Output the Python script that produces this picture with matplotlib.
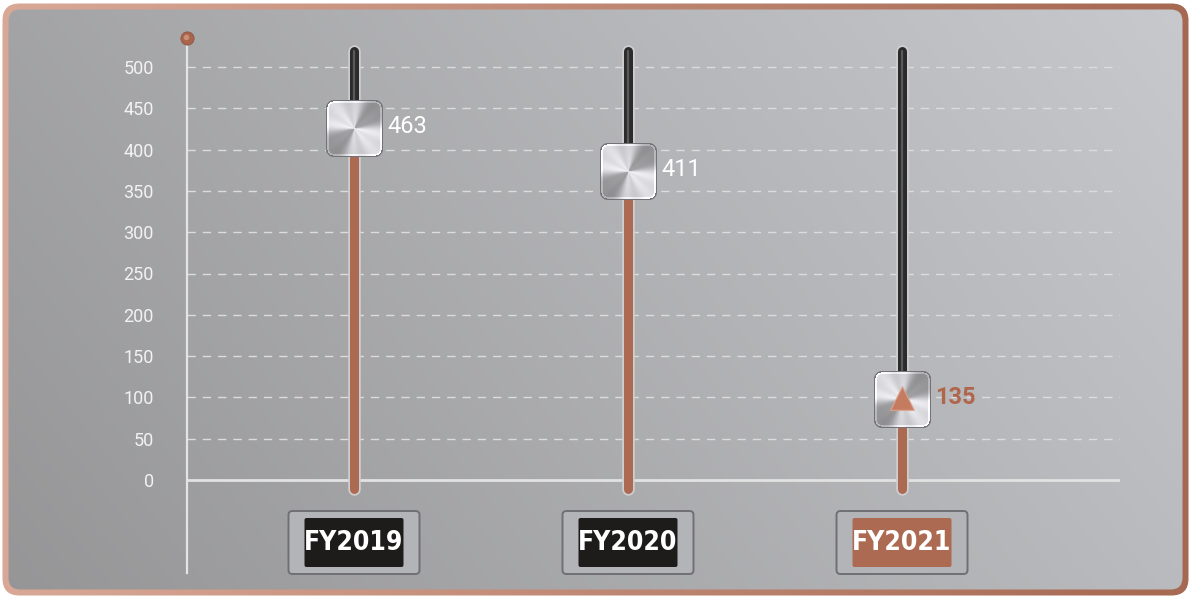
import numpy as np
import matplotlib
matplotlib.use("Agg")
import matplotlib.pyplot as plt
from matplotlib.patches import FancyBboxPatch
from matplotlib.offsetbox import OffsetImage, AnnotationBbox
from matplotlib.transforms import offset_copy
from matplotlib import font_manager as fm

# ---------------- data ----------------
categories = ["FY2019", "FY2020", "FY2021"]
values = [463, 411, 135]
yticks = [0, 50, 100, 150, 200, 250, 300, 350, 400, 450, 500]
highlight = [False, False, True]

# ---------------- style constants ----------------
W, H = 1192, 598
COPPER = "#ad6a52"
TRACK_TOP, TRACK_BOT = 519, -11
KNOB_DY = -31          # knob centre offset below value (px)
LABEL_DX = 33          # value label offset to the right (px)

fig = plt.figure(figsize=(W / 100, H / 100), dpi=100)
fig.patch.set_facecolor("white")

# ---------------- background panel ----------------
bg = fig.add_axes([0, 0, 1, 1])
bg.set_xlim(0, W)
bg.set_ylim(H, 0)
bg.axis("off")

outer = FancyBboxPatch((2.5, 3.5), 1186, 592, boxstyle="round,pad=0,rounding_size=17",
                       fill=False, lw=0, transform=bg.transData)
inner = FancyBboxPatch((8.5, 9.5), 1174, 580, boxstyle="round,pad=0,rounding_size=12",
                       fill=False, lw=0, transform=bg.transData)
bg.add_patch(outer)
bg.add_patch(inner)

t = np.linspace(0, 1, W)[None, :, None]
c_left = np.array([0.85, 0.66, 0.59])
c_right = np.array([0.65, 0.41, 0.32])
border_img = np.repeat(c_left * (1 - t) + c_right * t, 2, axis=0)
im1 = bg.imshow(border_img, extent=(0, W, H, 0), aspect="auto", interpolation="bilinear")
im1.set_clip_path(outer)

gy, gx = np.mgrid[0:H:4, 0:W:4]
tt = np.clip(0.72 * gx / W + 0.28 * (1 - gy / H), 0, 1)[..., None]
g0 = np.array([0.585, 0.585, 0.59])
g1 = np.array([0.785, 0.79, 0.805])
gray_img = g0 * (1 - tt) + g1 * tt
im2 = bg.imshow(gray_img, extent=(0, W, H, 0), aspect="auto", interpolation="bilinear")
im2.set_clip_path(inner)

# ---------------- main axes ----------------
px_per_unit = (480 - 67) / 500.0
ymin = (480 - 573) / px_per_unit
ymax = (480 - 38) / px_per_unit
xscale = 274.0
xmin = (187 - 354) / xscale
xmax = (1120 - 354) / xscale

ax = fig.add_axes([187 / W, (H - 573) / H, (1120 - 187) / W, (573 - 38) / H])
ax.patch.set_alpha(0)
ax.set_xlim(xmin, xmax)
ax.set_ylim(ymin, ymax)
for s in ["top", "right", "bottom"]:
    ax.spines[s].set_visible(False)
ax.spines["left"].set_color("#e4e4e4")
ax.spines["left"].set_linewidth(1.6)
ax.set_xticks([])
ax.set_yticks(yticks)
ax.set_yticklabels([str(v) for v in yticks], fontfamily="Roboto", fontsize=13)
ax.tick_params(axis="y", length=0, pad=24, labelcolor="#f2f2f2")

for v in yticks[1:]:
    ax.axhline(v, color="#dcdcdc", lw=1.0, ls=(0, (6, 5)), zorder=1)
ax.axhline(0, color="#e2e2e2", lw=2.0, zorder=1)

# top dot on axis
ax.plot([0], [1], transform=ax.transAxes, marker="o", ms=9.5, color="#a9644c",
        mec="#8e5442", mew=0.6, clip_on=False, zorder=6)
ax.plot([0], [1], transform=offset_copy(ax.transAxes, fig=fig, x=-1, y=1, units="dots"),
        marker="o", ms=4, color="#d49a84", mew=0, clip_on=False, zorder=7, alpha=0.8)


# ---------------- knob image ----------------
def make_knob(n=57, r=8):
    yy, xx = np.mgrid[0:n, 0:n] + 0.5
    c = n / 2.0
    dx = xx - c
    dy = yy - c
    th = np.arctan2(-dy, dx)
    rad = np.sqrt(dx ** 2 + dy ** 2)
    I = (0.75 + 0.15 * np.cos(2 * (th - 0.75 * np.pi))
         + 0.06 * np.cos(4 * th + 0.6) + 0.04 * np.cos(8 * th + 1.0))
    I += 0.06 * np.clip(1 - rad / c, 0, 1)
    qx = np.abs(dx) - (c - r)
    qy = np.abs(dy) - (c - r)
    d = (np.sqrt(np.maximum(qx, 0) ** 2 + np.maximum(qy, 0) ** 2)
         + np.minimum(np.maximum(qx, qy), 0) - r)
    rgb = np.stack([I, I, I * 1.02], axis=-1)
    edge = (d > -1.4)[..., None]
    rim = ((d <= -1.4) & (d > -3.0))[..., None]
    rgb = np.where(edge, np.array([0.45, 0.45, 0.47]), rgb)
    rgb = np.where(rim, np.clip(rgb + 0.14, 0, 1), rgb)
    alpha = np.clip(0.5 - d, 0, 1)
    return np.clip(np.dstack([rgb, alpha]), 0, 1)


knob_img = make_knob()

fig.canvas.draw()
cond_fp = fm.FontProperties(family="DejaVu Sans", weight="bold", stretch="condensed", size=19)

for i, (cat, v, hl) in enumerate(zip(categories, values, highlight)):
    # track rim
    ax.plot([i, i], [TRACK_TOP, TRACK_BOT], lw=9, color="#cfcfd1",
            solid_capstyle="round", zorder=3)
    knob_val = v + KNOB_DY / px_per_unit
    # dark upper part
    ax.plot([i, i], [TRACK_TOP, knob_val], lw=6.5, color="#2b2b2b",
            solid_capstyle="round", zorder=3.1)
    ax.plot([i, i], [TRACK_TOP, knob_val], lw=1.6, color="#5a5a5a",
            solid_capstyle="round", zorder=3.2)
    # copper lower part
    ax.plot([i, i], [knob_val, TRACK_BOT], lw=6.5, color=COPPER,
            solid_capstyle="round", zorder=3.3)

    # knob
    ab = AnnotationBbox(OffsetImage(knob_img, zoom=1, dpi_cor=False), (i, v),
                        xybox=(0, KNOB_DY * 0.72), boxcoords="offset points",
                        frameon=False, pad=0, zorder=5)
    ax.add_artist(ab)

    if hl:
        ax.scatter([i], [v], marker="^", s=17 ** 2, color="#c47b60", edgecolors="#dca28c",
                   linewidths=0.8, zorder=6,
                   transform=offset_copy(ax.transData, fig=fig, x=0, y=KNOB_DY + 1, units="dots"))

    # value label
    ax.text(i, v, str(v), transform=offset_copy(ax.transData, fig=fig, x=LABEL_DX,
                                                  y=KNOB_DY + 2, units="dots"),
            ha="left", va="center", fontfamily="Roboto", fontsize=17,
            color="#b0664c" if hl else "white", fontweight="bold" if hl else "normal",
            zorder=6)

    # category label box (drawn in pixel space of background axes)
    px, py = ax.transData.transform((i, 0))
    cx = px
    cy = 542.5
    bg.add_patch(FancyBboxPatch((cx - 65.5, cy - 31.5), 131, 63,
                                boxstyle="round,pad=0,rounding_size=4",
                                facecolor="#b3b4b8", edgecolor="#707074", lw=1.4, zorder=4))
    bg.add_patch(FancyBboxPatch((cx - 49.5, cy - 24.5), 99, 49,
                                boxstyle="round,pad=0,rounding_size=2",
                                facecolor=COPPER if hl else "#1e1b1b", edgecolor="none",
                                zorder=4.5))
    bg.text(cx, cy + 1, cat, ha="center", va="center", fontproperties=cond_fp,
            color="white", zorder=5)

fig.savefig("out.png", dpi=100)
